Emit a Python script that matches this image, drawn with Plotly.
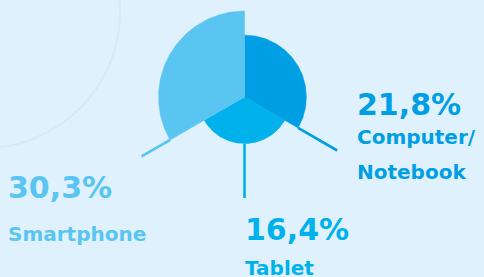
import numpy as np
import plotly.graph_objects as go

# ---- data ----
categories = ["Computer/Notebook", "Tablet", "Smartphone"]
values = [21.8, 16.4, 30.3]
value_labels = ["21,8%", "16,4%", "30,3%"]
name_lines = [["Computer/", "Notebook"], ["Tablet"], ["Smartphone"]]
colors = ["#009FE3", "#00B1EB", "#5BC5F2"]

# angular layout: each category gets a 120 degree sector (clockwise from north)
sector_start = [0, 120, 240]
sector_width = 120
leader_angle = [120, 180, 240]
leader_len = [37.7, 35.6, 41.9]

W, H = 484, 277
scale = 2.838           # px per unit
cx_px, cy_px = 244.5, 97  # centre of the rose in px

xr = [-cx_px / scale, (W - cx_px) / scale]
yr = [-(H - cy_px) / scale, cy_px / scale]

fig = go.Figure()

# leader lines (behind sectors)
for v, a, L, c in zip(values, leader_angle, leader_len, colors):
    t = np.deg2rad(a)
    fig.add_trace(go.Scatter(
        x=[v * np.sin(t), L * np.sin(t)], y=[v * np.cos(t), L * np.cos(t)],
        mode="lines", line=dict(color=c, width=2.6), hoverinfo="skip", showlegend=False))

# sectors
for name, v, s, c in zip(categories, values, sector_start, colors):
    th = np.deg2rad(np.linspace(s, s + sector_width, 121))
    xs = np.concatenate([[0], v * np.sin(th), [0]])
    ys = np.concatenate([[0], v * np.cos(th), [0]])
    fig.add_trace(go.Scatter(
        x=xs, y=ys, mode="lines", fill="toself", fillcolor=c,
        line=dict(color=c, width=0.5), name=name, showlegend=False,
        hoverinfo="name"))

font_family = "DejaVu Sans"
anns = []
def px2paper(x, y):
    return x / W, 1 - y / H

label_pos = [  # (left px, big-number centre y, [name line centre y])
    (355, 104, [137, 172]),
    (243, 229, [268]),
    (6, 187, [234]),
]
for lbl, names, c, (lx, ny, nys) in zip(value_labels, name_lines, colors, label_pos):
    x, y = px2paper(lx, ny)
    anns.append(dict(x=x, y=y, xref="paper", yref="paper", xanchor="left", yanchor="middle",
                     text=lbl, showarrow=False,
                     font=dict(family=font_family, size=30, color=c, weight=700)))
    for nm, yy in zip(names, nys):
        x, y = px2paper(lx, yy)
        anns.append(dict(x=x, y=y, xref="paper", yref="paper", xanchor="left", yanchor="middle",
                         text=nm, showarrow=False,
                         font=dict(family=font_family, size=20, color=c, weight=700)))

# faint decorative circle
x0, y0 = px2paper(-152, -124)
x1, y1 = px2paper(120, 148)
shapes = [dict(type="circle", xref="paper", yref="paper", x0=x0, x1=x1, y0=y1, y1=y0,
               line=dict(color="#D3EAFA", width=2), layer="below")]

fig.update_layout(
    width=W, height=H, margin=dict(l=0, r=0, t=0, b=0),
    paper_bgcolor="#DFF1FD", plot_bgcolor="rgba(0,0,0,0)",
    xaxis=dict(range=xr, visible=False, fixedrange=True),
    yaxis=dict(range=yr, visible=False, fixedrange=True),
    annotations=anns, shapes=shapes, showlegend=False,
)

fig.write_html("out.html", config={"displayModeBar": False},
               post_script="document.body.style.margin='0';document.body.style.background='#DFF1FD';")
